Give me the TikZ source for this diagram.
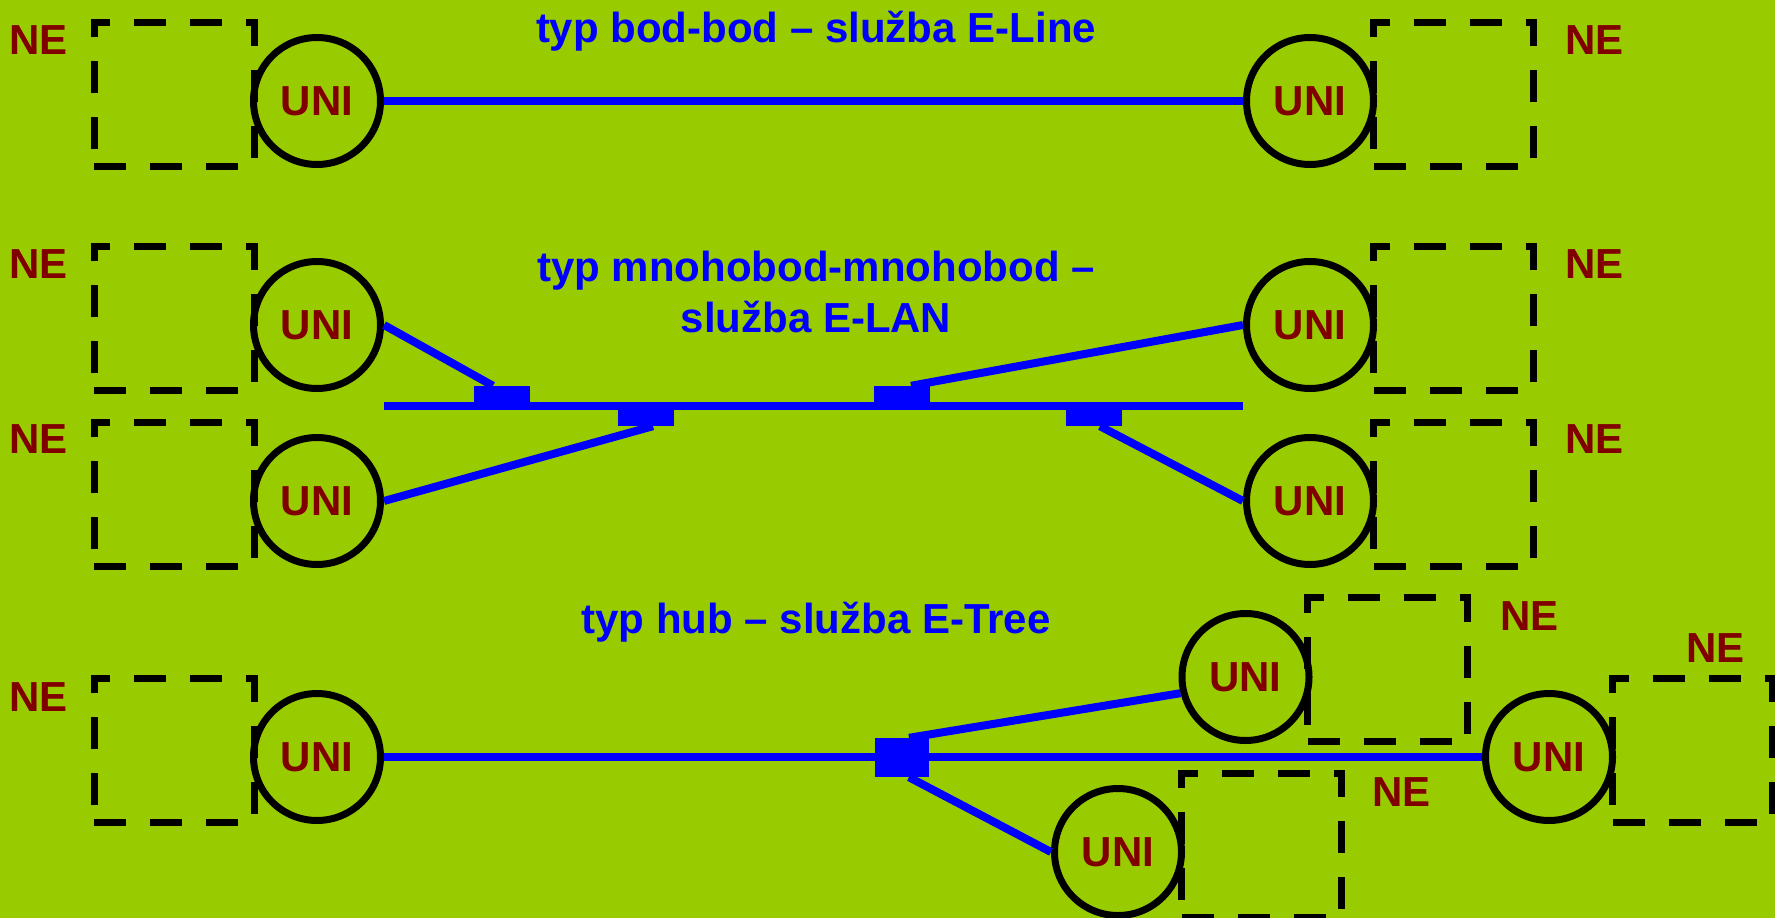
\documentclass[tikz,border=0pt]{standalone}
\usepackage{fontspec}
\setmainfont{Liberation Sans}
\definecolor{bggreen}{RGB}{153,204,0}
\definecolor{nered}{RGB}{128,0,0}
\definecolor{linkblue}{RGB}{0,0,255}
\begin{document}
\begin{tikzpicture}[x=1pt,y=-1pt,
  txt/.style={font=\bfseries\fontsize{42}{50}\selectfont, inner sep=0pt},
  title/.style={txt, text=linkblue, anchor=base},
  nelabel/.style={txt, text=nered},
  uni/.style={circle, draw=black, line width=7pt, minimum size=127pt, inner sep=0pt, txt, text=nered},
  boxline/.style={draw=black, line width=7pt, dash pattern=on 32pt off 24pt},
  link/.style={draw=linkblue, line width=8pt},
  tap/.style={fill=linkblue, minimum width=56pt, minimum height=18pt, inner sep=0pt},
  hubbox/.style={fill=linkblue, minimum width=54pt, minimum height=39pt, inner sep=0pt},
  nebox/.pic={
    \draw[boxline, dash phase=16pt] (0,0) -- (160,0) -- (160,144) -- (0,144);
    \draw[boxline, dash phase=39pt] (0,144) -- (0,-3.5);
  }
]
\fill[bggreen] (0,0) rectangle (1775,918);
\useasboundingbox (0,0) rectangle (1775,918);

% ---------- row 1: E-Line ----------
\pic at (94,22) {nebox};
\pic at (1373.5,22) {nebox};
\node[uni] (a1) at (317,101) {UNI};
\node[uni] (b1) at (1310,101) {UNI};
\node[nelabel, anchor=base east] (ne1) at (68,54) {NE};
\node[nelabel, anchor=base west] (ne2) at (1565,54) {NE};
\node[title] (t1) at (816,42) {typ bod-bod – služba E-Line};
\draw[link] (a1) -- (b1);

% ---------- row 2: E-LAN ----------
\pic at (94,246) {nebox};
\pic at (94,422) {nebox};
\pic at (1373.5,246) {nebox};
\pic at (1373.5,422) {nebox};
\node[uni] (a2) at (317,325) {UNI};
\node[uni] (a3) at (317,501) {UNI};
\node[uni] (b2) at (1310,325) {UNI};
\node[uni] (b3) at (1310,501) {UNI};
\node[nelabel, anchor=base east] (ne3) at (68,278) {NE};
\node[nelabel, anchor=base east] (ne4) at (68,453) {NE};
\node[nelabel, anchor=base west] (ne5) at (1565,278) {NE};
\node[nelabel, anchor=base west] (ne6) at (1565,453) {NE};
\node[title] (t2a) at (816,281) {typ mnohobod-mnohobod –};
\node[title] (t2b) at (816,332) {služba E-LAN};
\coordinate (bus) at (0,406);
\draw[link] (a2.east |- bus) -- (b2.west |- bus);
\node[tap] (s1) at (502,395) {};
\node[tap] (s2) at (646,417) {};
\node[tap] (s3) at (902,395) {};
\node[tap] (s4) at (1093.5,417) {};
\draw[link] (a2.east) -- ([xshift=-9pt]s1.north);
\draw[link] (a3.east) -- ([xshift=7pt]s2.south);
\draw[link] ([xshift=9pt]s3.north) -- (b2.west);
\draw[link] ([xshift=6.5pt]s4.south) -- (b3.west);

% ---------- row 3: E-Tree ----------
\pic at (94,678) {nebox};
\pic at (1307.5,597.5) {nebox};
\pic at (1181.5,773) {nebox};
\pic at (1612.5,678) {nebox};
\node[uni] (a4) at (317,757) {UNI};
\node[uni] (c1) at (1245.5,677) {UNI};
\node[uni] (c2) at (1118,852) {UNI};
\node[uni] (c3) at (1549,757) {UNI};
\node[nelabel, anchor=base east] (ne7) at (68,711) {NE};
\node[nelabel, anchor=base west] (ne8) at (1500,630) {NE};
\node[nelabel, anchor=base west] (ne9) at (1372,806) {NE};
\node[nelabel, anchor=base west] (ne10) at (1686,662) {NE};
\node[title] (t3) at (816,633) {typ hub – služba E-Tree};
\draw[link] (a4) -- (c3);
\node[hubbox] (hub) at (902,757.5) {};
\draw[link] ([xshift=7pt]hub.north) -- (c1.194);
\draw[link] ([xshift=7pt]hub.south) -- (c2.west);
\end{tikzpicture}
\end{document}
